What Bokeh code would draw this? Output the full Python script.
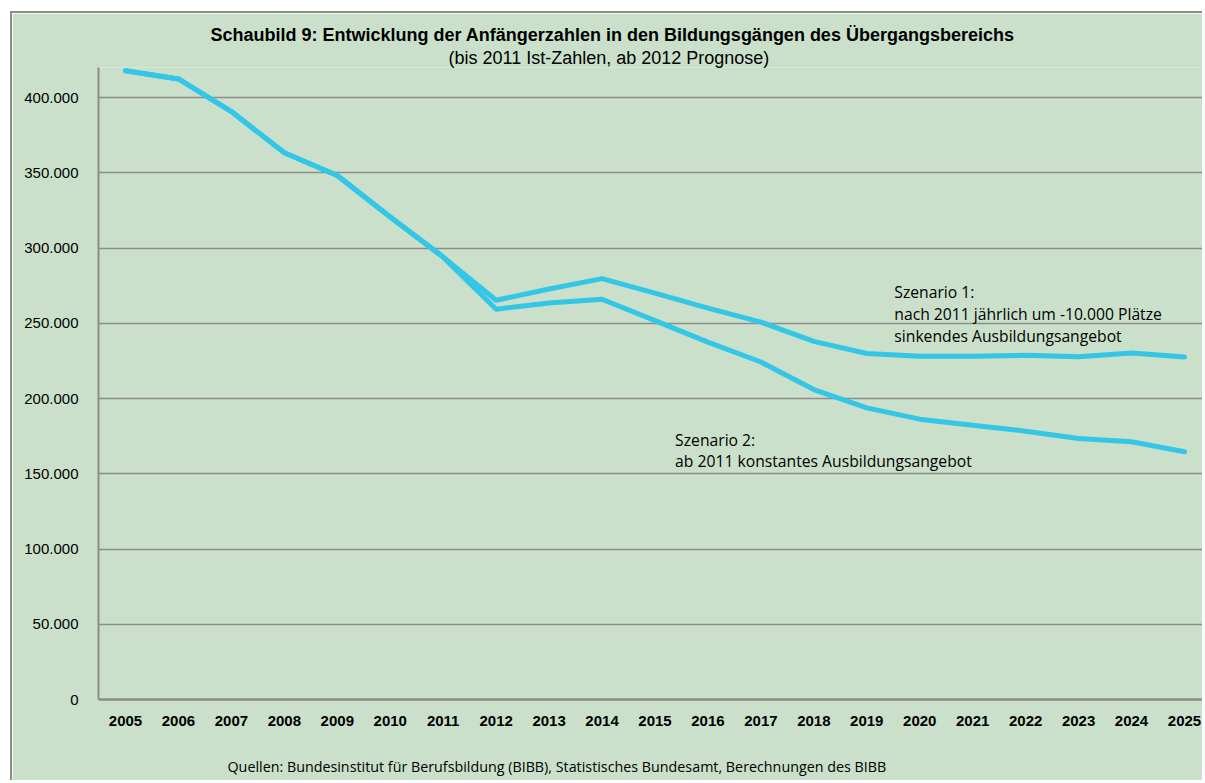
from bokeh.plotting import figure
from bokeh.models import Range1d, FixedTicker, Label, ColumnDataSource, Title
from bokeh.embed import file_html
from bokeh.resources import INLINE

# ---------------- data ----------------
years = list(range(2005, 2026))
szenario1 = [417900, 412400, 390700, 363300, 348200, 320600, 294000,
             265300, 272800, 279700, 270000, 260100, 250800, 238000,
             229900, 228100, 228100, 228700, 227800, 230300, 227600]
szenario2 = [417900, 412400, 390700, 363300, 348200, 320600, 294000,
             259400, 263500, 266000, 251800, 237500, 224300, 206000,
             193800, 186300, 182300, 178300, 173500, 171300, 164600]
y_ticks = [0, 50000, 100000, 150000, 200000, 250000, 300000, 350000, 400000]
y_tick_labels = ["0", "50.000", "100.000", "150.000", "200.000",
                 "250.000", "300.000", "350.000", "400.000"]
title_text = "Schaubild 9: Entwicklung der Anfängerzahlen in den Bildungsgängen des Übergangsbereichs"
subtitle_text = "(bis 2011 Ist-Zahlen, ab 2012 Prognose)"
s1_text = ["Szenario 1:", "nach 2011 jährlich um -10.000 Plätze", "sinkendes Ausbildungsangebot"]
s2_text = ["Szenario 2:", "ab 2011 konstantes Ausbildungsangebot"]
source_text = "Quellen: Bundesinstitut für Berufsbildung (BIBB), Statistisches Bundesamt, Berechnungen des BIBB"

BG = "#cae0ca"
LINE = "#33c6e7"
GRID = "#8c8c8c"

W, H = 1192, 769
p = figure(width=W, height=H, output_backend="svg", toolbar_location=None,
           x_range=Range1d(2004.49, 2025.378), y_range=Range1d(0, 420000),
           min_border_left=86, min_border_right=0, min_border_top=54,
           min_border_bottom=82)
p.margin = (11, 0, 0, 10)
p.background_fill_color = BG
p.border_fill_color = BG
p.outline_line_color = None
p.styles = {"border-left": "2px solid #8c8c8c", "border-top": "2px solid #8c8c8c"}

src = ColumnDataSource(dict(x=years, s1=szenario1, s2=szenario2))
p.line("x", "s1", source=src, line_color=LINE, line_width=5, line_cap="round", line_join="round")
p.line("x", "s2", source=src, line_color=LINE, line_width=5, line_cap="round", line_join="round")

# grid
p.xgrid.grid_line_color = None
p.ygrid.grid_line_color = GRID
p.ygrid.grid_line_width = 1.5
p.ygrid.ticker = FixedTicker(ticks=y_ticks[1:])

# y axis
ya = p.yaxis[0]
ya.ticker = FixedTicker(ticks=y_ticks)
ya.major_label_overrides = {t: l for t, l in zip(y_ticks, y_tick_labels)}
ya.major_label_text_font = "Liberation Sans"
ya.major_label_text_font_size = "15px"
ya.major_label_text_color = "#000000"
ya.major_tick_line_color = None
ya.minor_tick_line_color = None
ya.axis_line_color = GRID
ya.axis_line_width = 2
ya.major_label_standoff = 14

# x axis
xa = p.xaxis[0]
xa.ticker = FixedTicker(ticks=years)
xa.major_label_overrides = {y: str(y) for y in years}
xa.major_label_text_font = "Liberation Sans"
xa.major_label_text_font_style = "bold"
xa.major_label_text_font_size = "15px"
xa.major_label_text_color = "#000000"
xa.major_tick_line_color = None
xa.minor_tick_line_color = None
xa.axis_line_color = GRID
xa.axis_line_width = 2.5
xa.major_label_standoff = 10

# titles (first added sits closest to the plot)
p.add_layout(Title(text=subtitle_text, align="left", offset=350, standoff=0,
                   text_font="Liberation Sans", text_font_style="normal",
                   text_font_size="18px", text_color="#000000"), "above")
p.add_layout(Title(text=title_text, align="left", offset=112, standoff=1,
                   text_font="Liberation Sans", text_font_style="bold",
                   text_font_size="18px", text_color="#000000"), "above")

# source (an empty first line pushes it down to the bottom of the chart)
p.add_layout(Title(text=" \n" + source_text, align="left", offset=129, standoff=14,
                   text_font="Open Sans", text_font_style="normal",
                   text_font_size="14.3px", text_color="#000000"), "below")

# scenario annotations
for t, yy in zip(s1_text, [270800, 256000, 241400]):
    p.add_layout(Label(x=2019.52, y=yy, text=t, text_align="left", text_baseline="middle",
                       text_font="Open Sans", text_font_size="15.7px", text_color="#000000"))
for t, yy in zip(s2_text, [172500, 158500]):
    p.add_layout(Label(x=2015.38, y=yy, text=t, text_align="left", text_baseline="middle",
                       text_font="Open Sans", text_font_size="15.7px", text_color="#000000"))

open("out.html", "w").write(file_html(p, INLINE))
